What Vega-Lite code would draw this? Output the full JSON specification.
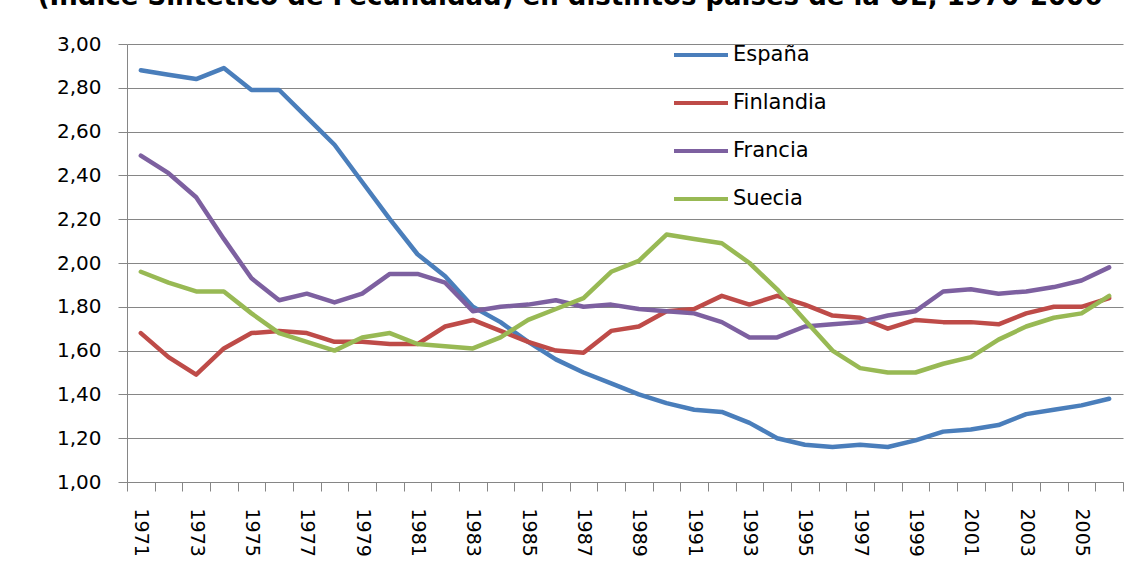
{
  "$schema": "https://vega.github.io/schema/vega-lite/v6.json",
  "width": 996,
  "height": 438,
  "autosize": {"type": "none"},
  "padding": {"left": 127, "top": 44, "right": 4, "bottom": 99},
  "background": "white",
  "title": {
    "text": "(Índice Sintético de Fecundidad) en distintos países de la UE, 1970-2006",
    "font": "DejaVu Sans",
    "fontWeight": "bold",
    "fontSize": 26,
    "color": "#000000",
    "anchor": "middle",
    "dx": -55,
    "offset": 24
  },
  "data": {
    "values": [
      {"year": 1971, "España": 2.88, "Finlandia": 1.68, "Francia": 2.49, "Suecia": 1.96},
      {"year": 1972, "España": 2.86, "Finlandia": 1.57, "Francia": 2.41, "Suecia": 1.91},
      {"year": 1973, "España": 2.84, "Finlandia": 1.49, "Francia": 2.30, "Suecia": 1.87},
      {"year": 1974, "España": 2.89, "Finlandia": 1.61, "Francia": 2.11, "Suecia": 1.87},
      {"year": 1975, "España": 2.79, "Finlandia": 1.68, "Francia": 1.93, "Suecia": 1.77},
      {"year": 1976, "España": 2.79, "Finlandia": 1.69, "Francia": 1.83, "Suecia": 1.68},
      {"year": 1977, "España": 2.665, "Finlandia": 1.68, "Francia": 1.86, "Suecia": 1.64},
      {"year": 1978, "España": 2.54, "Finlandia": 1.64, "Francia": 1.82, "Suecia": 1.60},
      {"year": 1979, "España": 2.37, "Finlandia": 1.64, "Francia": 1.86, "Suecia": 1.66},
      {"year": 1980, "España": 2.20, "Finlandia": 1.63, "Francia": 1.95, "Suecia": 1.68},
      {"year": 1981, "España": 2.04, "Finlandia": 1.63, "Francia": 1.95, "Suecia": 1.63},
      {"year": 1982, "España": 1.94, "Finlandia": 1.71, "Francia": 1.91, "Suecia": 1.62},
      {"year": 1983, "España": 1.80, "Finlandia": 1.74, "Francia": 1.78, "Suecia": 1.61},
      {"year": 1984, "España": 1.73, "Finlandia": 1.69, "Francia": 1.80, "Suecia": 1.66},
      {"year": 1985, "España": 1.64, "Finlandia": 1.64, "Francia": 1.81, "Suecia": 1.74},
      {"year": 1986, "España": 1.56, "Finlandia": 1.60, "Francia": 1.83, "Suecia": 1.79},
      {"year": 1987, "España": 1.50, "Finlandia": 1.59, "Francia": 1.80, "Suecia": 1.84},
      {"year": 1988, "España": 1.45, "Finlandia": 1.69, "Francia": 1.81, "Suecia": 1.96},
      {"year": 1989, "España": 1.40, "Finlandia": 1.71, "Francia": 1.79, "Suecia": 2.01},
      {"year": 1990, "España": 1.36, "Finlandia": 1.78, "Francia": 1.78, "Suecia": 2.13},
      {"year": 1991, "España": 1.33, "Finlandia": 1.79, "Francia": 1.77, "Suecia": 2.11},
      {"year": 1992, "España": 1.32, "Finlandia": 1.85, "Francia": 1.73, "Suecia": 2.09},
      {"year": 1993, "España": 1.27, "Finlandia": 1.81, "Francia": 1.66, "Suecia": 2.00},
      {"year": 1994, "España": 1.20, "Finlandia": 1.85, "Francia": 1.66, "Suecia": 1.88},
      {"year": 1995, "España": 1.17, "Finlandia": 1.81, "Francia": 1.71, "Suecia": 1.74},
      {"year": 1996, "España": 1.16, "Finlandia": 1.76, "Francia": 1.72, "Suecia": 1.60},
      {"year": 1997, "España": 1.17, "Finlandia": 1.75, "Francia": 1.73, "Suecia": 1.52},
      {"year": 1998, "España": 1.16, "Finlandia": 1.70, "Francia": 1.76, "Suecia": 1.50},
      {"year": 1999, "España": 1.19, "Finlandia": 1.74, "Francia": 1.78, "Suecia": 1.50},
      {"year": 2000, "España": 1.23, "Finlandia": 1.73, "Francia": 1.87, "Suecia": 1.54},
      {"year": 2001, "España": 1.24, "Finlandia": 1.73, "Francia": 1.88, "Suecia": 1.57},
      {"year": 2002, "España": 1.26, "Finlandia": 1.72, "Francia": 1.86, "Suecia": 1.65},
      {"year": 2003, "España": 1.31, "Finlandia": 1.77, "Francia": 1.87, "Suecia": 1.71},
      {"year": 2004, "España": 1.33, "Finlandia": 1.80, "Francia": 1.89, "Suecia": 1.75},
      {"year": 2005, "España": 1.35, "Finlandia": 1.80, "Francia": 1.92, "Suecia": 1.77},
      {"year": 2006, "España": 1.38, "Finlandia": 1.84, "Francia": 1.98, "Suecia": 1.85}
    ]
  },
  "transform": [
    {"fold": ["España", "Finlandia", "Francia", "Suecia"], "as": ["country", "value"]}
  ],
  "mark": {"type": "line", "strokeWidth": 4.5, "strokeJoin": "round", "strokeCap": "round"},
  "encoding": {
    "x": {
      "field": "year",
      "type": "ordinal",
      "bandPosition": 0.5,
      "scale": {"type": "band", "paddingInner": 0, "paddingOuter": 0},
      "axis": {
        "title": null,
        "tickBand": "extent",
        "labelAngle": 90,
        "labelExpr": "datum.value % 2 == 1 ? datum.label : ''",
        "labelOverlap": false,
        "labelFont": "DejaVu Sans",
        "labelFontSize": 19,
        "labelColor": "#000000",
        "labelPadding": 17,
        "tickSize": 9,
        "tickColor": "#868686",
        "domainColor": "#868686",
        "grid": false
      }
    },
    "y": {
      "field": "value",
      "type": "quantitative",
      "scale": {"domain": [1, 3], "nice": false, "zero": false},
      "axis": {
        "title": null,
        "values": [1, 1.2, 1.4, 1.6, 1.8, 2, 2.2, 2.4, 2.6, 2.8, 3],
        "labelExpr": "replace(format(datum.value, '.2f'), '.', ',')",
        "labelFont": "DejaVu Sans",
        "labelFontSize": 20,
        "labelColor": "#000000",
        "labelPadding": 17,
        "tickSize": 9,
        "tickColor": "#868686",
        "domainColor": "#868686",
        "grid": true,
        "gridColor": "#868686",
        "gridOpacity": 1
      }
    },
    "color": {
      "field": "country",
      "type": "nominal",
      "scale": {
        "domain": ["España", "Finlandia", "Francia", "Suecia"],
        "range": ["#4A7EBB", "#BE4B48", "#7D60A0", "#98B954"]
      },
      "legend": {
        "title": null,
        "orient": "none",
        "legendX": 545,
        "legendY": -4,
        "symbolType": "stroke",
        "symbolSize": 2916,
        "symbolStrokeWidth": 4,
        "labelFont": "DejaVu Sans",
        "labelFontSize": 21,
        "labelColor": "#000000",
        "labelOffset": 3,
        "clipHeight": 30,
        "rowPadding": 18,
        "padding": 0
      }
    }
  },
  "config": {"view": {"stroke": null}}
}
